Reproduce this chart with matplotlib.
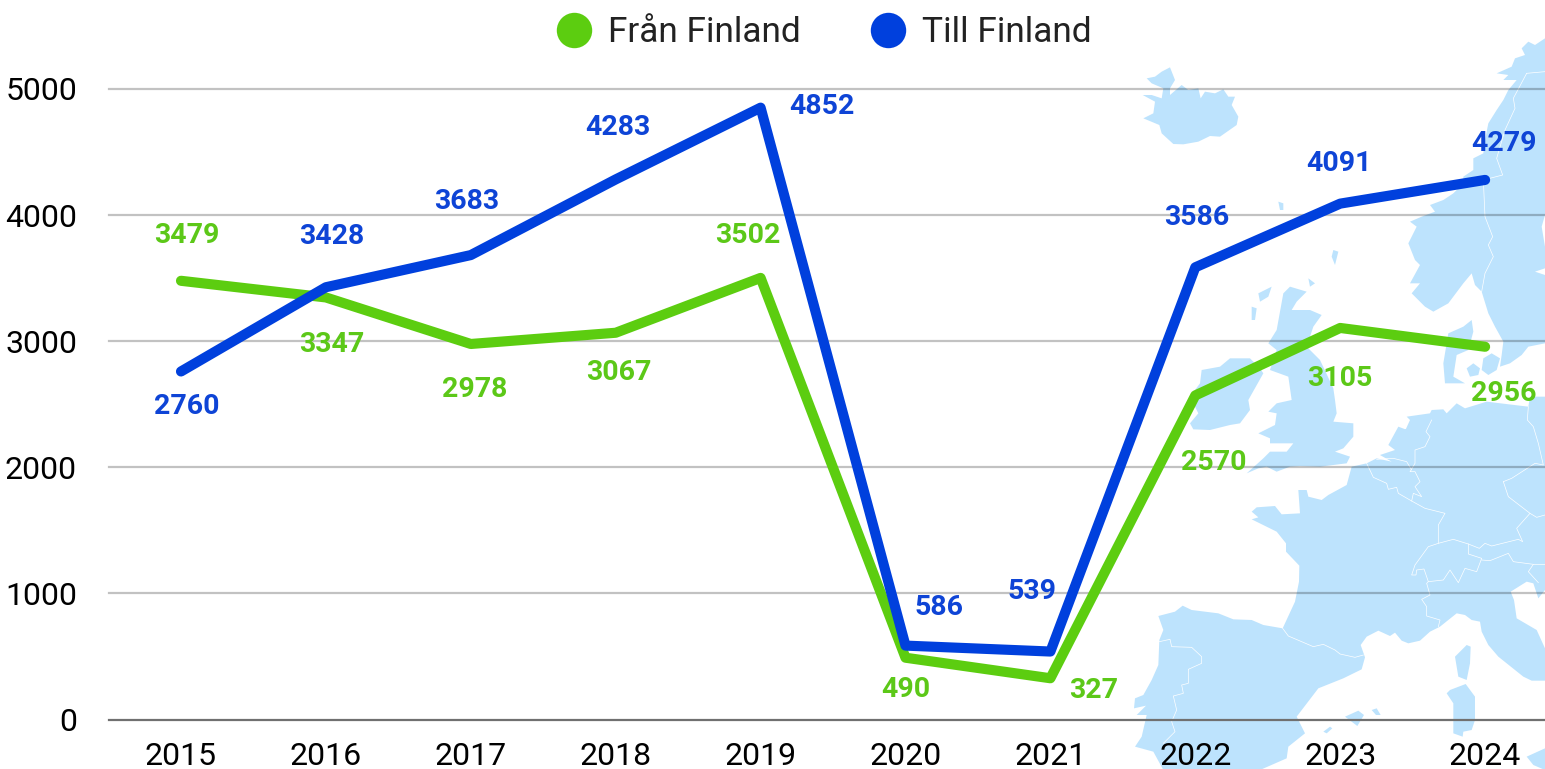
#!/usr/bin/env python
import matplotlib
matplotlib.use('Agg')
import matplotlib.pyplot as plt
from matplotlib.lines import Line2D
from matplotlib.patches import Polygon

years = [2015, 2016, 2017, 2018, 2019, 2020, 2021, 2022, 2023, 2024]
fran = [3479, 3347, 2978, 3067, 3502, 490, 327, 2570, 3105, 2956]
till = [2760, 3428, 3683, 4283, 4852, 586, 539, 3586, 4091, 4279]
yticks = [0, 1000, 2000, 3000, 4000, 5000]

# label offsets from the points, in pixels
fran_off = [(6, 45), (6, -47), (4, -46), (3, -40), (-13, 42), (0, -32), (43, -12), (18, -67), (0, -51), (19, -47)]
till_off = [(6, -35), (6, 51), (-4, 54), (2, 52), (61, 1), (33, 38), (-18, 60), (1, 50), (-1, 40), (19, 36)]

GREEN = '#5ccd10'
BLUE = '#0040dd'
MAP = '#bde3fd'
W, H = 1545, 769


def z1(pts):
    return [(1120 + x / 3.0, 30 + y / 3.0) for x, y in pts]


def z2(pts):
    return [(1120 + x / 3.0, 400 + y / 3.0) for x, y in pts]


# rough outline of the background map, traced in image pixels
iceland = z1([(80, 145), (105, 140), (125, 125), (150, 112), (165, 150), (150, 175), (150, 195), (185, 165), (205, 180),
              (235, 175), (242, 205), (255, 185), (285, 190), (310, 178), (325, 200), (345, 200), (335, 225), (355, 260),
              (350, 285), (300, 320), (270, 318), (235, 335), (190, 343), (160, 342), (125, 310), (118, 285), (70, 265),
              (100, 250), (105, 215), (68, 195), (95, 195), (125, 205), (130, 175), (95, 160)])
scandinavia = z1([(1275, 25), (1245, 45), (1225, 35), (1205, 55), (1215, 75), (1185, 85), (1175, 110), (1130, 130), (1165, 135),
                  (1150, 150), (1190, 150), (1165, 180), (1150, 210), (1130, 240), (1105, 280), (1095, 330), (1090, 370),
                  (1060, 385), (1060, 420), (1030, 440), (1030, 460), (1000, 490), (970, 510), (930, 525), (945, 545),
                  (905, 560), (870, 575), (890, 590), (865, 640), (885, 690), (900, 705), (870, 760), (900, 760), (875, 790),
                  (915, 830), (940, 845), (985, 820), (1030, 760), (1055, 730), (1065, 765), (1085, 785), (1105, 850),
                  (1125, 890), (1150, 935), (1145, 975), (1140, 1010), (1170, 1000), (1205, 975), (1225, 950), (1275, 940),
                  (1275, 735), (1245, 725), (1275, 715), (1275, 650), (1265, 590), (1275, 555)])
denmark = z1([(985, 910), (1030, 890), (1055, 870), (1060, 905), (1045, 960), (1010, 975), (1000, 1040), (1035, 1060),
              (975, 1060), (970, 1000)])
zealand = z1([(1040, 1015), (1060, 1000), (1080, 1015), (1075, 1035), (1050, 1040)])
funen = z1([(1090, 985), (1115, 970), (1140, 985), (1130, 1020), (1105, 1035), (1085, 1020)])
britain = z1([(490, 790), (510, 770), (560, 785), (530, 815), (515, 840), (570, 840), (605, 855), (580, 890), (560, 950),
              (600, 990), (640, 1075), (645, 1110)]) + \
    z2([(650, 40), (640, 65), (700, 70), (700, 110), (670, 145), (645, 155), (690, 170), (680, 190), (600, 200), (540, 198),
        (510, 200), (470, 215), (440, 200), (415, 205), (380, 220), (430, 175), (450, 155), (500, 155), (520, 130), (450, 130),
        (450, 115), (415, 100), (465, 75), (470, 40), (445, 35), (470, 10), (515, 0)]) + \
    z1([(505, 1040), (450, 1020), (470, 960), (445, 940), (470, 900)])
ireland = z1([(210, 1100), (240, 1060), (245, 1020), (300, 1010), (330, 985), (390, 985), (420, 1015), (430, 1030)]) + \
    z2([(385, 0), (390, 30), (360, 70), (330, 75), (270, 90), (220, 88), (210, 70), (235, 40)])
continent = z2([(1275, -10), (1230, -10), (1225, 20), (1100, 5), (1035, 25), (1010, 10), (980, 40), (970, 28), (935, 30), (930, 40),
                (860, 50), (870, 60), (845, 115), (875, 95), (835, 80), (805, 135), (825, 150), (780, 165), (815, 185), (770, 175), (740, 190), (695, 200), (680, 255),
                (625, 285), (605, 300), (565, 290), (560, 270), (535, 270), (540, 340), (485, 343), (465, 318), (410, 322),
                (395, 335), (415, 352), (395, 358), (470, 395), (498, 430), (498, 455), (538, 497), (537, 545), (525, 605),
                (488, 685), (430, 675), (395, 660), (340, 658), (295, 640), (215, 630), (188, 617), (165, 635), (115, 648),
                (130, 690), (118, 720), (115, 795), (95, 840), (70, 885), (45, 895), (42, 925), (78, 917), (50, 945), (80, 945),
                (65, 1010), (45, 1040), (100, 1055), (130, 1110), (420, 1110), (500, 1075), (505, 1040), (555, 1000), (530, 950),
                (595, 865), (670, 835), (725, 808), (735, 772), (722, 735), (740, 710), (775, 692), (810, 708), (825, 698),
                (845, 722), (865, 730), (900, 722), (930, 695), (960, 680), (985, 660), (1010, 640), (1035, 645), (1055, 660),
                (1080, 665), (1085, 695), (1105, 735), (1135, 770), (1210, 830), (1235, 842), (1275, 842), (1275, 745), (1250, 690),
                (1190, 655), (1182, 600), (1172, 575), (1220, 545), (1240, 550), (1255, 595), (1275, 570)])
islands = [z2(p) for p in (
    [(1040, 735), (1052, 740), (1050, 790), (1040, 840), (1015, 830), (1005, 770)],
    [(1037, 852), (1065, 890), (1065, 960), (1055, 990), (1030, 995), (1028, 1010), (1000, 1000), (1000, 910), (980, 880), (990, 870)],
    [(675, 950), (715, 932), (732, 945), (712, 978)],
    [(755, 930), (770, 925), (782, 945), (768, 945)],
    [(610, 995), (630, 980), (637, 985), (620, 1000)],
    [(1220, 1070), (1275, 1045), (1275, 1110), (1240, 1095)])]
islands += [z1(p) for p in (
    [(415, 790), (455, 770), (445, 800), (420, 815)],
    [(395, 830), (410, 835), (405, 870), (395, 870)],
    [(565, 745), (585, 760), (570, 770)],
    [(475, 515), (490, 520), (490, 540), (480, 540)],
    [(640, 660), (655, 665), (645, 705), (635, 680)])]
borders = [z2(p) for p in (
    [(488, 685), (505, 708), (580, 740), (610, 733), (645, 750), (660, 762), (705, 772), (730, 765)],
    [(118, 725), (150, 718), (155, 740), (215, 742), (245, 770), (245, 790), (205, 808), (205, 850), (185, 855), (190, 880),
     (160, 888), (170, 930), (155, 965), (165, 995), (130, 1030)],
    [(740, 190), (760, 232), (800, 250), (805, 268), (830, 262), (835, 280), (875, 303), (915, 325), (975, 340), (955, 375),
     (955, 430), (925, 440), (885, 495), (875, 525), (888, 525), (890, 510), (912, 507), (925, 545), (920, 550), (930, 585),
     (905, 598), (920, 620), (920, 648), (960, 660), (955, 680)],
    [(875, 303), (880, 280), (905, 290), (885, 260), (900, 245), (885, 215), (870, 215), (885, 190), (885, 150),
     (915, 140), (930, 110), (918, 95), (935, 60)],
    [(770, 178), (820, 175), (860, 185), (875, 210)],
    [(955, 430), (1000, 418), (1045, 432), (1078, 445), (1095, 430), (1115, 438), (1195, 418), (1208, 425), (1190, 385),
     (1230, 340), (1250, 352), (1275, 345)],
    [(925, 545), (970, 540), (990, 510), (1015, 548), (1035, 505), (1070, 515), (1085, 475), (1045, 462), (1045, 432)],
    [(1085, 480), (1110, 482), (1165, 460), (1180, 485), (1240, 493), (1275, 493)],
    [(1150, 245), (1175, 235), (1245, 190), (1270, 195), (1255, 130), (1240, 80), (1222, 60), (1225, 20)],
    [(1150, 245), (1165, 290), (1230, 340)],
    [(1240, 493), (1225, 515), (1255, 548)])]
borders += [z1([(1220, 130), (1180, 205), (1185, 235), (1155, 300), (1130, 385), (1148, 435), (1090, 450), (1095, 560),
                (1118, 620), (1105, 645), (1120, 680), (1095, 730), (1085, 785)]),
            z1([(1220, 130), (1275, 125)])]

fig = plt.figure(figsize=(W / 100.0, H / 100.0), dpi=100)

# background map
bg = fig.add_axes([0, 0, 1, 1])
bg.set_xlim(0, W)
bg.set_ylim(H, 0)
bg.axis('off')
for poly in [iceland, scandinavia, denmark, zealand, funen, britain, ireland, continent] + islands:
    bg.add_patch(Polygon(poly, closed=True, fc=MAP, ec='none'))
for line in borders:
    bg.plot([p[0] for p in line], [p[1] for p in line], color='white', lw=0.5)

# x index 0 sits at 181 px, one year is 144.9 px
left, right, top, bottom = 109, 1545, 89, 719.5
ax = fig.add_axes([left / W, 1 - bottom / H, (right - left) / W, (bottom - top) / H])
ax.patch.set_alpha(0)
xs = list(range(len(years)))
ax.set_xlim((left - 181) / 144.9, (right - 181) / 144.9)
ax.set_ylim(0, 5000)
for s in ax.spines.values():
    s.set_visible(False)
for v in yticks[1:]:
    ax.axhline(v, color='black', alpha=0.24, lw=1.6, zorder=1, clip_on=False)
ax.axhline(0, color='#707070', lw=1.6, zorder=1, clip_on=False)

ax.plot(xs, fran, color=GREEN, lw=7.3, solid_capstyle='round', solid_joinstyle='round', zorder=3)
ax.plot(xs, till, color=BLUE, lw=7.3, solid_capstyle='round', solid_joinstyle='round', zorder=4)

for x, v, off in zip(xs, fran, fran_off):
    ax.annotate(str(v), (x, v), xytext=off, textcoords='offset pixels', ha='center', va='center',
                color='#5cc818', fontsize=20.5, fontweight='bold', family='Roboto', zorder=5)
for x, v, off in zip(xs, till, till_off):
    ax.annotate(str(v), (x, v), xytext=off, textcoords='offset pixels', ha='center', va='center',
                color='#0e44d6', fontsize=20.5, fontweight='bold', family='Roboto', zorder=5)

ax.set_xticks(xs)
ax.set_xticklabels(years, family='Roboto', fontsize=23, color='black')
ax.set_yticks(yticks)
ax.set_yticklabels(yticks, family='Roboto', fontsize=23, color='black')
ax.tick_params(axis='both', length=0)
ax.tick_params(axis='x', pad=16)
ax.tick_params(axis='y', pad=23)

handles = [Line2D([], [], ls='none', marker='o', ms=25.5, color=GREEN, mew=0),
           Line2D([], [], ls='none', marker='o', ms=25.5, color=BLUE, mew=0)]
fig.legend(handles, ['Från Finland', 'Till Finland'], ncol=2, frameon=False, loc='center',
           bbox_to_anchor=(824.0 / W, 1 - 33.0 / H), prop={'family': 'Roboto', 'size': 25.4},
           labelcolor='#222222', handletextpad=0.46, columnspacing=2.0, handlelength=1.0)

plt.savefig('out.png', dpi=100)
